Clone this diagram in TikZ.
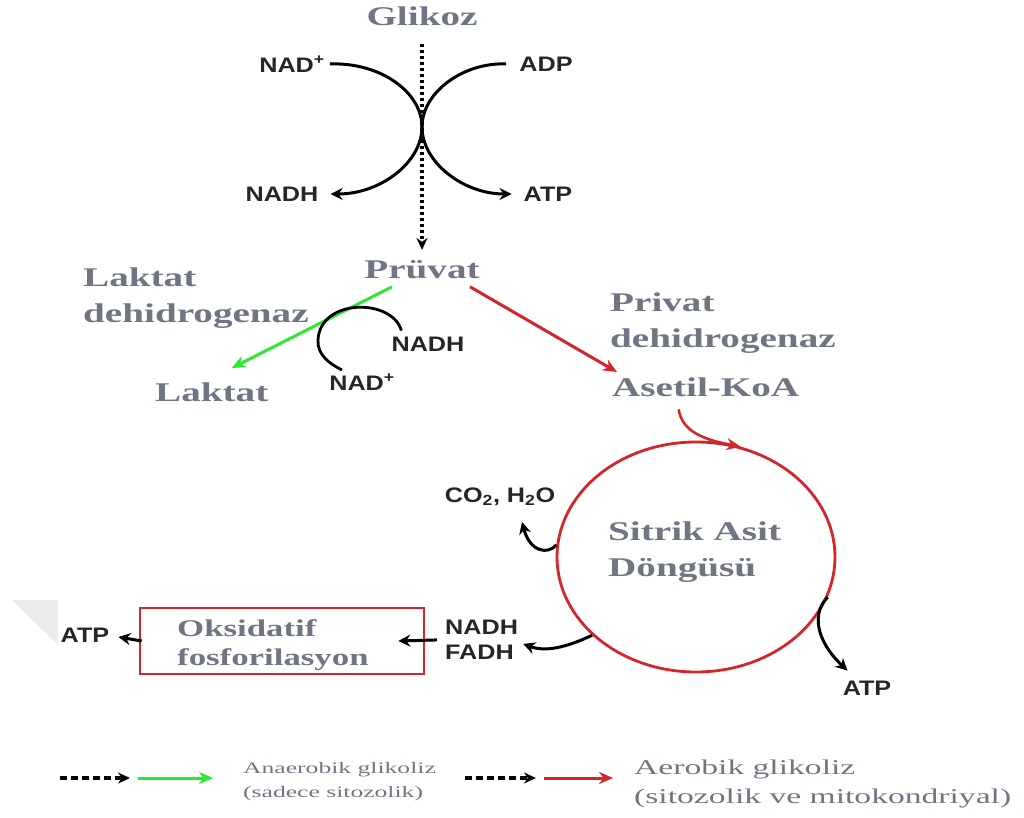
\documentclass[tikz,border=0pt]{standalone}
\usepackage{fontspec}
\usepackage{tikz}
\usetikzlibrary{arrows.meta,shapes.geometric}
\newfontfamily\headfont[FakeStretch=1.45]{Liberation Serif}
\newfontfamily\legfont[FakeStretch=1.6]{Liberation Serif}
\newfontfamily\labfont[FakeStretch=1.2]{Liberation Sans}
\definecolor{headgrey}{RGB}{112,117,132}
\definecolor{tcared}{RGB}{212,38,42}
\definecolor{ldhgreen}{RGB}{45,232,45}

\begin{document}
\begin{tikzpicture}[x=1pt,y=-1pt]
\tikzstyle{every node}=[inner sep=3pt]
\tikzstyle{head}=[font={\headfont\bfseries\fontsize{27}{36}\selectfont},text=headgrey,inner sep=0pt,align=left]
\tikzstyle{lab}=[font={\labfont\bfseries\fontsize{21}{25}\selectfont},text=black!85,align=left]
\tikzstyle{blk}=[line width=3pt,-{Stealth[length=12pt,width=12pt]}]
\tikzstyle{dots}=[line width=3.2pt,dash pattern=on 3pt off 3pt,-{Stealth[length=12pt,width=11pt]}]
\tikzstyle{dsh}=[line width=3.2pt,dash pattern=on 7pt off 4pt,-{Stealth[length=12pt,width=11pt]}]
\tikzstyle{ana}=[ldhgreen,line width=3pt,-{Stealth[length=14pt,width=12pt]}]
\tikzstyle{aer}=[tcared,line width=3pt,-{Stealth[length=14pt,width=12pt]}]
\useasboundingbox (0,0) rectangle (1024,818);

% glikoliz
\node[head,anchor=north] (glc) at (422,7) {Glikoz};
\node[head,anchor=north] (pru) at (422,260) {Prüvat};
\node[lab] (nadA) at (292,64) {NAD\textsuperscript{+}};
\node[lab] (adp) at (546,64) {ADP};
\node[lab] (nadhA) at (282,194) {NADH};
\node[lab] (atpA) at (548,194) {ATP};
\coordinate (x) at (422,127);
\draw[dots] ([yshift=-18pt]glc.south) -- ([yshift=10pt]pru.north);
\draw[blk] ([xshift=2pt]nadA.east) .. controls (380,62) and (422,92) .. (x) .. controls (422,162) and (381,194) .. ([xshift=9pt]nadhA.east);
\draw[blk] ([xshift=-10pt]adp.west) .. controls (464,62) and (422,92) .. (x) .. controls (422,162) and (463,194) .. ([xshift=-9pt]atpA.west);

% anaerobik
\node[head,anchor=north west] (ldh) at (83,268) {Laktat\\dehidrogenaz};
\node[head,anchor=north west] (lak) at (155,383) {Laktat};
\node[lab] (nadhB) at (428,344) {NADH};
\node[lab] (nadB) at (362,382) {NAD\textsuperscript{+}};
\draw[ana] ([xshift=-30pt,yshift=-8pt]pru.south) -- ([xshift=20pt,yshift=15pt]lak.north);
\draw[line width=2.8pt] ([xshift=13pt,yshift=3pt]nadhB.north west) .. controls (392,298) and (320,298) .. (318,340) .. controls (317,355) and (330,364) .. ([xshift=-20pt,yshift=12pt]nadB.center);

% aerobik
\node[head,anchor=north west] (pdh) at (610,293) {Privat\\dehidrogenaz};
\node[head,anchor=north west] (ase) at (612,378) {Asetil-KoA};
\draw[aer] ([xshift=48pt,yshift=-8pt]pru.south) -- ([xshift=5pt,yshift=6pt]ase.north west);
\node[draw=tcared,line width=2.8pt,ellipse,minimum width=278pt,minimum height=230pt] (tca) at (696,557) {};
\node[head,anchor=north west] (tcatxt) at (608,522) {Sitrik Asit\\Döngüsü};
\draw[aer,line width=2.6pt] ([xshift=-27pt,yshift=-12pt]ase.south) .. controls (682,432) and (705,440) .. (tca.68);
\node[lab] (co) at (500,497) {CO\textsubscript{2}, H\textsubscript{2}O};
\node[lab,anchor=north west] (nf) at (442,617) {NADH\\FADH};
\node[lab] (atpC) at (867,688) {ATP};
\draw[blk] (tca.175) .. controls (548,555) and (530,552) .. (522,522);
\draw[blk] (tca.217) .. controls (565,648) and (545,652) .. ([xshift=2pt,yshift=-4pt]nf.east);
\draw[blk] (tca.343) .. controls (812,612) and (815,640) .. ([xshift=8pt,yshift=7pt]atpC.north west);

% oksidatif fosforilasyon
\fill[black!8] (12,600) -- (58,600) -- (58,645) -- cycle;
\node[draw=tcared,line width=2.6pt,minimum width=284pt,minimum height=66pt] (oks) at (282,641) {};
\node[head,anchor=north west,font={\headfont\bfseries\fontsize{24}{29}\selectfont}] (okstxt) at (177,619) {Oksidatif\\fosforilasyon};
\node[lab] (atpD) at (85,635) {ATP};
\draw[blk] ([xshift=-5pt]nf.west) -- ([xshift=-27pt]oks.east);
\draw[blk] ([xshift=3pt]oks.west) -- ([xshift=6pt,yshift=-2pt]atpD.east);

% legend
\coordinate (k1) at (60,778); \coordinate (k2) at (130,778);
\coordinate (g1) at (138,778); \coordinate (g2) at (213,778);
\coordinate (k3) at (465,778); \coordinate (k4) at (536,778);
\coordinate (r1) at (544,778); \coordinate (r2) at (613,778);
\draw[dsh] (k1) -- (k2);
\draw[ana] (g1) -- (g2);
\draw[dsh] (k3) -- (k4);
\draw[aer] (r1) -- (r2);
\node[anchor=north west,inner sep=0pt,align=left,text=headgrey,font={\legfont\fontsize{16}{24}\selectfont}] (leg1) at (243,762) {Anaerobik glikoliz\\(sadece sitozolik)};
\node[anchor=north west,inner sep=0pt,align=left,text=headgrey,font={\legfont\fontsize{21}{29}\selectfont}] (leg2) at (634,760) {Aerobik glikoliz\\(sitozolik ve mitokondriyal)};
\end{tikzpicture}
\end{document}
